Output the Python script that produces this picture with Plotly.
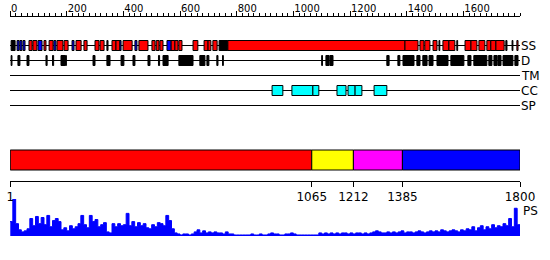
import plotly.graph_objects as go

SEQ_LEN = 1800

# Secondary structure segments (residue ranges)
HELIX = [(67, 78), (81, 95), (120, 127), (138, 152), (166, 187), (191, 205),
         (233, 251), (261, 272), (300, 314), (318, 332), (360, 374), (374, 388),
         (399, 431), (455, 487), (501, 512), (516, 526), (529, 540), (568, 582),
         (582, 593), (596, 607), (646, 663), (685, 699), (699, 709), (716, 731),
         (769, 1394), (1394, 1440), (1447, 1461), (1464, 1482), (1493, 1507),
         (1528, 1549), (1549, 1570), (1606, 1627), (1627, 1648), (1655, 1676),
         (1683, 1697), (1697, 1715), (1715, 1744), (1789, 1793)]
STRAND = [(25, 32), (35, 42), (46, 53), (99, 113), (155, 162), (219, 226),
          (388, 392), (441, 448), (554, 568)]
SS_OTHER = [(4, 18), (342, 346), (738, 769), (1514, 1517), (1577, 1580),
            (1750, 1754), (1772, 1775)]

# Disordered regions
DISORDER = [(4, 7), (28, 35), (60, 67), (127, 131), (150, 154), (180, 194),
            (196, 199), (293, 300), (342, 353), (392, 402), (434, 441),
            (487, 494), (524, 528), (540, 558), (596, 646), (670, 688),
            (695, 702), (730, 734), (750, 753), (1100, 1103), (1115, 1126),
            (1129, 1140), (1330, 1338), (1369, 1376), (1387, 1426),
            (1436, 1447), (1457, 1472), (1479, 1493), (1507, 1546),
            (1556, 1602), (1616, 1627), (1637, 1683), (1690, 1701),
            (1708, 1719), (1722, 1733), (1740, 1775), (1782, 1793)]

# Transmembrane / signal peptide: none
TRANSMEM = []
SIGNAL_PEP = []

# Coiled coils
COILED_COIL = [(925, 963), (995, 1069), (1069, 1090), (1154, 1186),
               (1193, 1218), (1218, 1242), (1285, 1330)]

# Domain boundaries
DOMAIN_BOUNDS = [1, 1065, 1212, 1385, 1800]

# Profile (PS) sampled every 10 residues
PS_STEP = 10
PS_VALUES = [14, 36, 12, 6, 4, 5, 7, 17, 10, 19, 12, 18, 11, 20, 9, 15, 17, 14, 6, 8,
             5, 10, 7, 9, 12, 20, 11, 8, 20, 14, 16, 9, 11, 13, 4, 3, 12, 9, 12, 10,
             11, 22, 10, 14, 9, 13, 10, 12, 8, 7, 11, 9, 13, 12, 10, 20, 15, 7, 3, 2,
             1, 2, 2, 1, 2, 4, 6, 3, 5, 3, 4, 3, 4, 3, 3, 2, 4, 2, 2, 1,
             1, 1, 1, 1, 1, 2, 1, 1, 2, 1, 1, 2, 3, 2, 2, 1, 1, 2, 2, 3,
             2, 1, 1, 1, 1, 1, 1, 1, 1, 3, 2, 3, 2, 3, 2, 3, 2, 3, 3, 2,
             3, 2, 3, 3, 2, 3, 2, 3, 4, 5, 4, 3, 3, 4, 3, 4, 3, 4, 5, 3,
             4, 4, 3, 4, 5, 4, 3, 4, 5, 4, 5, 4, 6, 5, 4, 5, 6, 5, 4, 6,
             5, 7, 6, 9, 5, 8, 10, 6, 9, 7, 11, 8, 10, 9, 12, 10, 17, 9, 27, 11]

TRACK_LABELS = ["SS", "D", "TM", "CC", "SP"]
RULER_TICKS = list(range(0, 1601, 200))

# ---------------- styling / layout ----------------
W, H = 550, 260
ML, MR = 10, 30
TRACK_Y = {"SS": 45.5, "D": 60.5, "TM": 75.5, "CC": 90.5, "SP": 105.5}
BOX_HALF = 5
DOMAIN_Y0, DOMAIN_Y1 = 150, 170
DOMAIN_COLORS = ["#ff0000", "#ffff00", "#ff00ff", "#0000ff"]
FONT = "DejaVu Sans"

shapes = []
for lab in TRACK_LABELS:
    y = TRACK_Y[lab]
    shapes.append(dict(type="line", xref="x", yref="y", x0=0, x1=SEQ_LEN,
                       y0=y, y1=y, line=dict(color="black", width=1), layer="above"))

def boxes(segs, track, fill, border="black", bw=1):
    y = TRACK_Y[track]
    for s, e in segs:
        shapes.append(dict(type="rect", xref="x", yref="y", x0=s, x1=e,
                           y0=y - BOX_HALF, y1=y + BOX_HALF, fillcolor=fill,
                           line=dict(color=border, width=bw), layer="above"))

boxes(SS_OTHER, "SS", "black")
boxes(HELIX, "SS", "#ff0000")
boxes(STRAND, "SS", "#0000ff")
boxes(DISORDER, "D", "black")
boxes(TRANSMEM, "TM", "#ffa500")
boxes(COILED_COIL, "CC", "#00ffff")
boxes(SIGNAL_PEP, "SP", "#00ff00")

for i in range(len(DOMAIN_BOUNDS) - 1):
    shapes.append(dict(type="rect", xref="x", yref="y",
                       x0=DOMAIN_BOUNDS[i], x1=DOMAIN_BOUNDS[i + 1],
                       y0=DOMAIN_Y0, y1=DOMAIN_Y1,
                       fillcolor=DOMAIN_COLORS[i % len(DOMAIN_COLORS)],
                       line=dict(color="black", width=1), layer="above"))

annotations = []
for lab in TRACK_LABELS:
    annotations.append(dict(xref="paper", yref="y", x=1, y=TRACK_Y[lab], text=lab,
                            xanchor="left", yanchor="middle", showarrow=False,
                            xshift=-1, font=dict(family=FONT, size=12, color="black")))
annotations.append(dict(xref="paper", yref="y", x=1, y=211, text="PS",
                        xanchor="left", yanchor="middle", showarrow=False,
                        xshift=1, font=dict(family=FONT, size=12, color="black")))

ps_x = [1] + [i * PS_STEP for i in range(len(PS_VALUES))] + [SEQ_LEN]
ps_y = [PS_VALUES[0]] + PS_VALUES + [PS_VALUES[-1]]

fig = go.Figure()
# dummy trace so the ruler/track subplot exists
fig.add_trace(go.Scatter(x=[0, SEQ_LEN], y=[0, 0], xaxis="x", yaxis="y",
                         mode="markers", marker=dict(opacity=0), hoverinfo="skip",
                         showlegend=False))
# PS profile on its own subplot
fig.add_trace(go.Scatter(x=ps_x, y=ps_y, xaxis="x2", yaxis="y2", mode="lines",
                         line=dict(color="#0000ff", width=1, shape="hv"),
                         fill="tozeroy", fillcolor="#0000ff", hoverinfo="skip",
                         showlegend=False))

fig.update_layout(
    width=W, height=H, autosize=False,
    margin=dict(l=ML, r=MR, t=0, b=0, pad=0),
    paper_bgcolor="white", plot_bgcolor="rgba(0,0,0,0)",
    shapes=shapes, annotations=annotations,
    # ruler axis on top
    xaxis=dict(range=[0, SEQ_LEN], domain=[0, 1], side="top",
               anchor="free", position=(H - 15.5) / H,
               showline=True, linecolor="black", linewidth=1, showgrid=False,
               zeroline=False, ticks="outside", ticklen=5, tickcolor="black",
               tickmode="array", tickvals=RULER_TICKS,
               ticktext=[str(v) for v in RULER_TICKS],
               ticklabelposition="outside right", ticklabelstandoff=0,
               minor=dict(dtick=20, tick0=0, ticks="outside", ticklen=3,
                          tickcolor="black", showgrid=False),
               tickfont=dict(family=FONT, size=10, color="black")),
    yaxis=dict(range=[H, 0], domain=[0, 1], visible=False, fixedrange=True,
               anchor="x"),
    # bottom axis with domain boundaries
    xaxis2=dict(range=[0, SEQ_LEN], domain=[0, 1], anchor="free",
                position=(H - 180.5) / H, side="bottom",
                showline=True, linecolor="black", linewidth=1, showgrid=False,
                zeroline=False, ticks="outside", ticklen=5, tickcolor="black",
                tickwidth=1, tickmode="array", tickvals=DOMAIN_BOUNDS,
                ticktext=[str(v) for v in DOMAIN_BOUNDS],
                tickfont=dict(family=FONT, size=12, color="black")),
    yaxis2=dict(range=[0, 36], domain=[(H - 236) / H, (H - 199) / H],
                visible=False, anchor="x2", fixedrange=True),
)

fig.write_html("out.html")
